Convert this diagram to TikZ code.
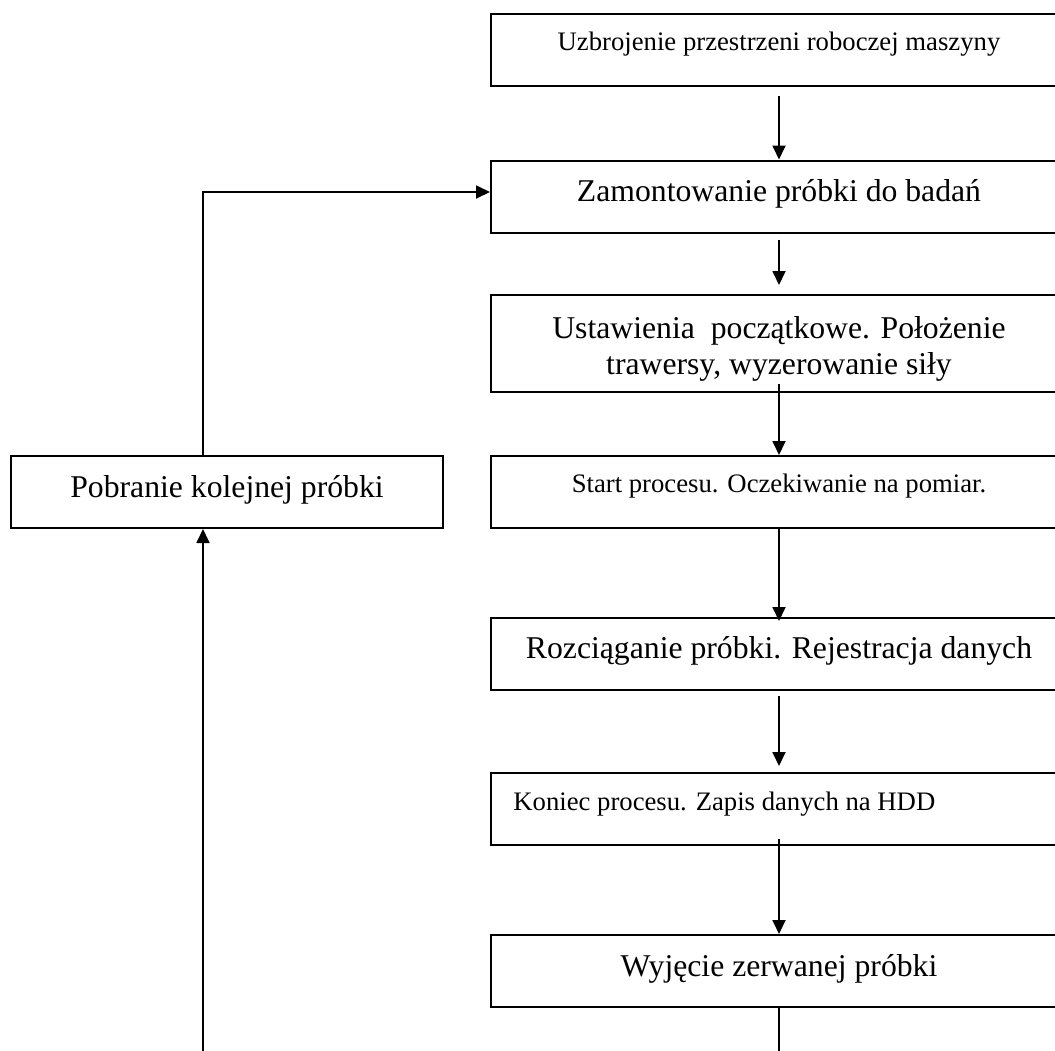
\documentclass[tikz,border=0pt]{standalone}
\usepackage{fontspec}
\setmainfont{Liberation Serif}
\usetikzlibrary{arrows.meta}
\tikzset{
  krok/.style={draw, line width=1pt, minimum width=288pt, minimum height=36pt, inner sep=0pt},
  duzy/.style={font=\fontsize{15.85}{18}\selectfont, inner sep=0pt, anchor=base},
  maly/.style={font=\fontsize{13.35}{16}\selectfont, inner sep=0pt, anchor=base},
  linia/.style={line width=0.9pt},
  strz/.style={line width=0.9pt, -{Triangle[length=7pt,width=6.5pt]}}
}
\begin{document}
\begin{tikzpicture}[x=0.5pt, y=-0.5pt]
		\useasboundingbox (0,0) rectangle (1055,1050);
		\clip (0,0) rectangle (1055,1050);
		\node[krok] (uzbr) at (779,50) {};
		\node[krok] (mont) at (779,196.5) {};
		\node[krok, minimum height=48.5pt] (ust) at (779,343.5) {};
		\node[krok] (start) at (779,492) {};
		\node[krok] (rozc) at (779,654) {};
		\node[krok] (kon) at (779,809) {};
		\node[krok] (wyj) at (779,971) {};
		\node[krok, minimum width=216pt] (pobr) at (227,492) {};
		\node[maly] (t-uzbr) at (779,50) {Uzbrojenie przestrzeni roboczej maszyny};
		\node[duzy] (t-mont) at (779,201) {Zamontowanie próbki do badań};
		\node[duzy, anchor=center, align=center] (t-ust) at (779,349) {Ustawienia~ początkowe. Położenie\\trawersy, wyzerowanie siły};
		\node[maly] (t-start) at (779,492) {Start procesu. Oczekiwanie na pomiar.};
		\node[duzy] (t-rozc) at (779,658) {Rozciąganie próbki. Rejestracja danych};
		\node[maly, anchor=base west] (t-kon) at (513,810) {Koniec procesu. Zapis danych na HDD};
		\node[duzy] (t-wyj) at (779,976) {Wyjęcie zerwanej próbki};
		\node[duzy] (t-pobr) at (227,497) {Pobranie kolejnej próbki};
		\coordinate (dol1) at (779,1060);
		\coordinate (dol2) at (203,1060);
		\draw[strz] ([yshift=-4.5pt]uzbr.south) -- (mont.north);
		\draw[strz] ([yshift=-3pt]mont.south) -- ([yshift=4.5pt]ust.north);
		\draw[strz] ([yshift=4.5pt]ust.south) -- (start.north);
		\draw[strz] (start.south) -- ([yshift=-2pt]rozc.north);
		\draw[strz] ([yshift=-2.5pt]rozc.south) -- ([yshift=3pt]kon.north);
		\draw[strz] ([yshift=3.5pt]kon.south) -- (wyj.north);
		\draw[linia] (wyj.south) -- (dol1);
		\draw[strz] (dol2) -- ([xshift=-12pt]pobr.south);
		\draw[strz] ([xshift=-12pt]pobr.north) |- ([yshift=2.25pt]mont.west);
\end{tikzpicture}
\end{document}
